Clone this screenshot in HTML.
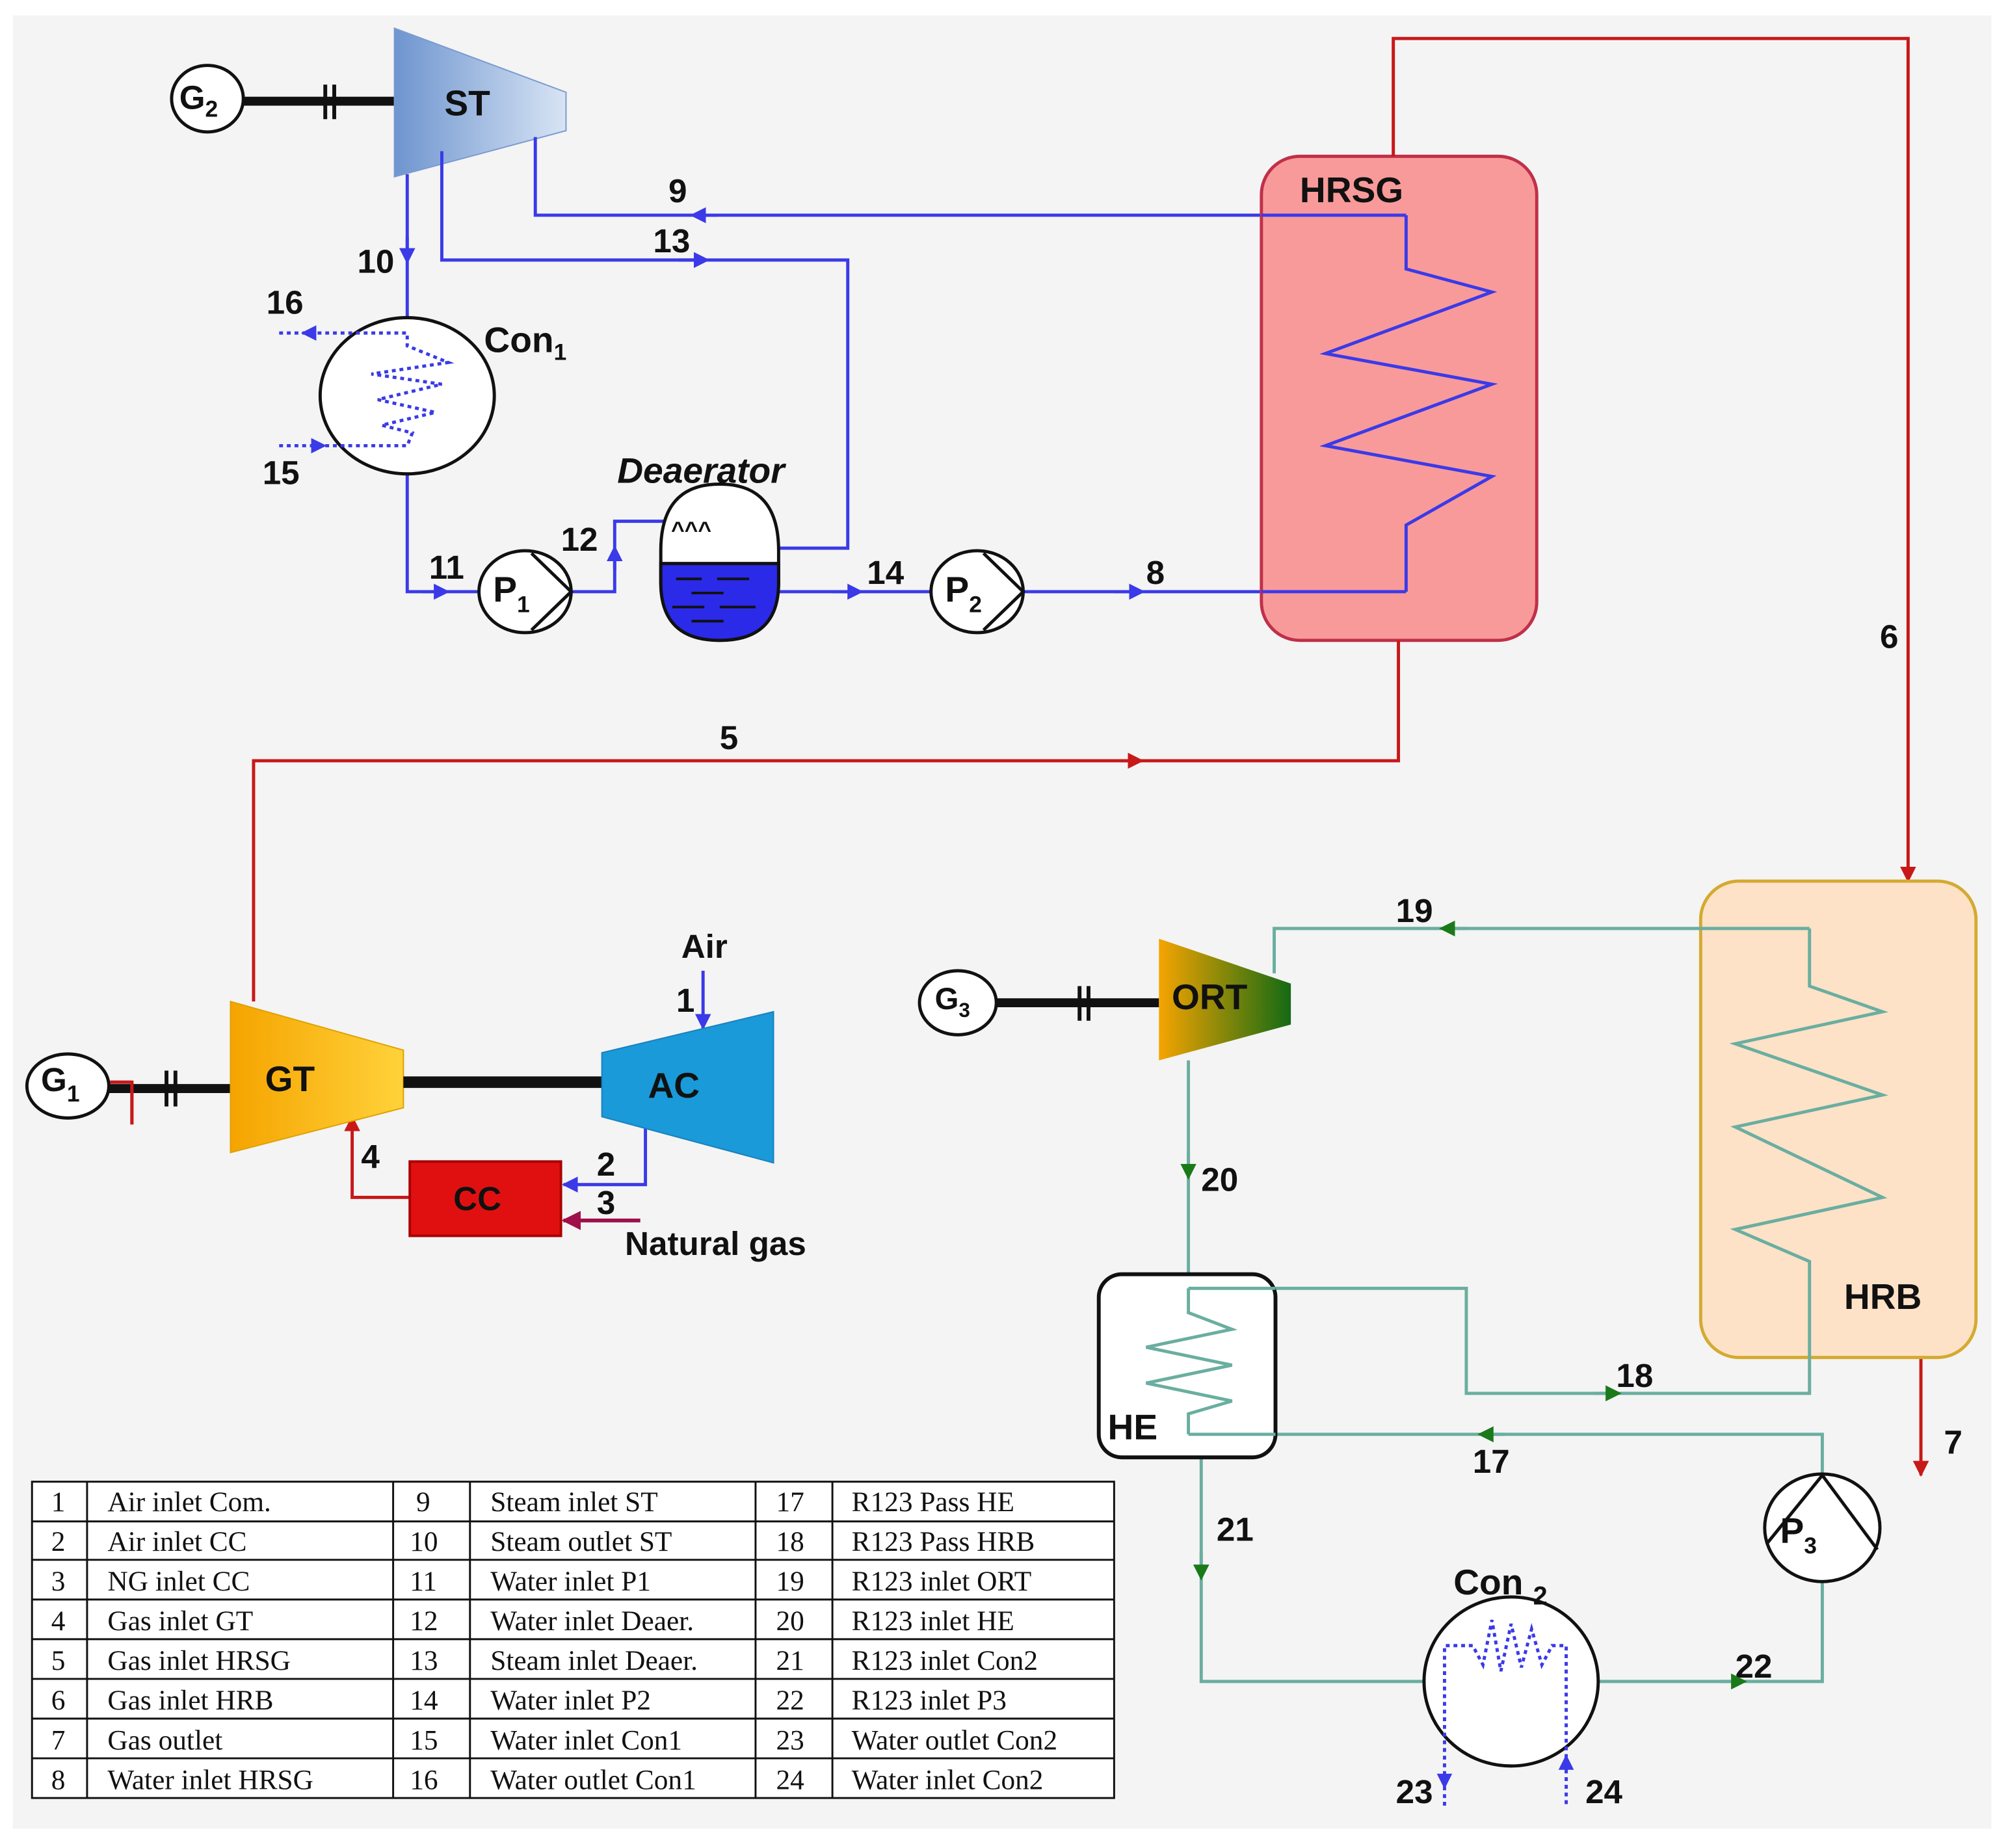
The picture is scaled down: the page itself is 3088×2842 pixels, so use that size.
<!DOCTYPE html>
<html><head><meta charset="utf-8"><style>
html,body{margin:0;padding:0;background:#fff;}
svg{display:block;}
text{font-family:"Liberation Sans",sans-serif;font-weight:bold;fill:#111;}
.tt{font-family:"Liberation Serif",serif;font-weight:normal;font-size:22px;}
</style></head><body>
<svg width="3088" height="2842" viewBox="0 0 1568 1443" xmlns="http://www.w3.org/2000/svg">
<defs>
<linearGradient id="gst" x1="0" x2="1"><stop offset="0" stop-color="#6e95cf"/><stop offset="1" stop-color="#d8e4f4"/></linearGradient>
<linearGradient id="ggt" x1="0" x2="1"><stop offset="0" stop-color="#f5a400"/><stop offset="1" stop-color="#ffd23a"/></linearGradient>
<linearGradient id="gort" x1="0" x2="1"><stop offset="0" stop-color="#f5a400"/><stop offset="1" stop-color="#146a14"/></linearGradient>
<marker id="ab" viewBox="0 0 10 10" refX="5" refY="5" markerWidth="5" markerHeight="5" orient="auto"><path d="M0,0L10,5L0,10z" fill="#3a3ae8"/></marker>
<marker id="ar" viewBox="0 0 10 10" refX="9" refY="5" markerWidth="5" markerHeight="5" orient="auto"><path d="M0,0L10,5L0,10z" fill="#c81818"/></marker>
<marker id="ag" viewBox="0 0 10 10" refX="5" refY="5" markerWidth="5" markerHeight="5" orient="auto"><path d="M0,0L10,5L0,10z" fill="#1a7a1a"/></marker>
<marker id="am" viewBox="0 0 10 10" refX="9" refY="5" markerWidth="5" markerHeight="5" orient="auto"><path d="M0,0L10,5L0,10z" fill="#a0104a"/></marker>
<marker id="abe" viewBox="0 0 10 10" refX="9" refY="5" markerWidth="5" markerHeight="5" orient="auto"><path d="M0,0L10,5L0,10z" fill="#3a3ae8"/></marker>
</defs>
<rect x="10" y="12" width="1545" height="1416" fill="#f4f4f4"/>

<!-- ST group -->
<ellipse cx="162" cy="77" rx="28" ry="26" fill="#fff" stroke="#111" stroke-width="2.5"/>
<text x="140" y="85" font-size="26">G<tspan font-size="18" dy="6">2</tspan></text>
<line x1="190" y1="79" x2="310" y2="79" stroke="#111" stroke-width="7"/>
<line x1="254" y1="66" x2="254" y2="93" stroke="#111" stroke-width="3"/>
<line x1="261" y1="66" x2="261" y2="93" stroke="#111" stroke-width="3"/>
<polygon points="308,22 442,72 442,102 308,138" fill="url(#gst)" stroke="#7a9ad0"/>
<text x="347" y="90" font-size="28">ST</text>

<!-- blue lines -->
<g stroke="#3a3ae8" stroke-width="2.5" fill="none">
<polyline points="1098,168 418,168 418,107"/>
<line x1="560" y1="168" x2="545" y2="168" marker-end="url(#ab)"/>
<polyline points="345,118 345,203 662,203 662,428 607,428"/>
<line x1="530" y1="203" x2="548" y2="203" marker-end="url(#ab)"/>
<line x1="318" y1="136" x2="318" y2="250"/>
<line x1="318" y1="185" x2="318" y2="200" marker-end="url(#ab)"/>
<polyline points="318,370 318,462 375,462"/>
<line x1="330" y1="462" x2="345" y2="462" marker-end="url(#ab)"/>
<polyline points="446,462 480,462 480,407 573,407"/>
<line x1="480" y1="445" x2="480" y2="432" marker-end="url(#ab)"/>
<line x1="608" y1="462" x2="728" y2="462"/>
<line x1="650" y1="462" x2="668" y2="462" marker-end="url(#ab)"/>
<polyline points="798,462 1098,462 1098,410 1165,372 1035,348 1165,300 1035,276 1165,228 1098,210 1098,168"/>
<line x1="870" y1="462" x2="888" y2="462" marker-end="url(#ab)"/>
<line x1="549" y1="758" x2="549" y2="803" marker-end="url(#abe)"/>
<polyline points="504,880 504,925 440,925" marker-end="url(#abe)"/>
</g>
<!-- Con1 -->
<ellipse cx="318" cy="309" rx="68" ry="61" fill="#fff" stroke="#111" stroke-width="2.5"/>
<g stroke="#3a3ae8" stroke-width="2.5" fill="none" stroke-dasharray="3,3">
<polyline points="218,260 318,260 318,270 350,283 290,292 345,300 295,312 340,322 298,332 322,338 318,348 218,348"/>
</g>
<path d="M235,260 l12,-6 v12z" fill="#3a3ae8"/>
<path d="M255,348 l-12,-6 v12z" fill="#3a3ae8"/>
<text x="378" y="275" font-size="28">Con<tspan font-size="18" dy="6">1</tspan></text>
<!-- P1 -->
<ellipse cx="410" cy="462" rx="36" ry="32" fill="#fff" stroke="#111" stroke-width="2.5"/>
<polyline points="415,432 446,462 415,492" fill="none" stroke="#111" stroke-width="2.5"/>
<text x="385" y="470" font-size="28">P<tspan font-size="18" dy="8">1</tspan></text>
<!-- Deaerator -->
<path d="M516,430 Q516,378 562,378 Q608,378 608,430 V455 Q608,500 562,500 Q516,500 516,455 Z" fill="#fff" stroke="#111" stroke-width="2.5"/>
<path d="M516,440 H608 V455 Q608,500 562,500 Q516,500 516,455 Z" fill="#2a2ae8" stroke="#111" stroke-width="2.5"/>
<g stroke="#111" stroke-width="2"><line x1="528" y1="452" x2="548" y2="452"/><line x1="560" y1="452" x2="585" y2="452"/><line x1="540" y1="463" x2="565" y2="463"/><line x1="525" y1="474" x2="550" y2="474"/><line x1="562" y1="474" x2="590" y2="474"/><line x1="540" y1="485" x2="565" y2="485"/></g>
<text x="524" y="420" font-size="18" font-weight="normal">^^^</text>
<text x="482" y="377" font-size="28" font-style="italic">Deaerator</text>
<!-- P2 -->
<ellipse cx="763" cy="462" rx="36" ry="32" fill="#fff" stroke="#111" stroke-width="2.5"/>
<polyline points="768,432 799,462 768,492" fill="none" stroke="#111" stroke-width="2.5"/>
<text x="738" y="470" font-size="28">P<tspan font-size="18" dy="8">2</tspan></text>

<!-- HRSG -->
<rect x="985" y="122" width="215" height="378" rx="30" fill="#f99a9a" stroke="#c0304a" stroke-width="2.5" fill-opacity="1"/>
<polyline points="1098,462 1098,410 1165,372 1035,348 1165,300 1035,276 1165,228 1098,210 1098,168" fill="none" stroke="#3a3ae8" stroke-width="2.5"/>
<line x1="985" y1="462" x2="1098" y2="462" stroke="#3a3ae8" stroke-width="2.5"/>
<line x1="985" y1="168" x2="1098" y2="168" stroke="#3a3ae8" stroke-width="2.5"/>
<text x="1015" y="158" font-size="28">HRSG</text>

<!-- red lines -->
<g stroke="#c81818" stroke-width="2.5" fill="none">
<polyline points="1088,122 1088,30 1490,30 1490,688" marker-end="url(#ar)"/>
<polyline points="1092,500 1092,594 198,594 198,782"/>
<line x1="875" y1="594" x2="892" y2="594" marker-end="url(#ar)"/>
<polyline points="320,935 275,935 275,872" marker-end="url(#ar)"/>
<line x1="1500" y1="1060" x2="1500" y2="1152" marker-end="url(#ar)"/>
<polyline points="86,845 103,845 103,878"/>
</g>
<line x1="500" y1="953" x2="440" y2="953" stroke="#a0104a" stroke-width="3" marker-end="url(#am)"/>

<!-- GT group -->
<ellipse cx="53" cy="848" rx="32" ry="25" fill="#fff" stroke="#111" stroke-width="2.5"/>
<text x="32" y="852" font-size="26">G<tspan font-size="18" dy="8">1</tspan></text>
<line x1="85" y1="850" x2="180" y2="850" stroke="#111" stroke-width="7"/>
<line x1="130" y1="836" x2="130" y2="864" stroke="#111" stroke-width="3"/>
<line x1="137" y1="836" x2="137" y2="864" stroke="#111" stroke-width="3"/>
<line x1="86" y1="845" x2="103" y2="845" stroke="#c81818" stroke-width="2.5"/>
<line x1="103" y1="845" x2="103" y2="878" stroke="#c81818" stroke-width="2.5"/>
<polygon points="180,782 315,820 315,865 180,900" fill="url(#ggt)" stroke="#e0a000"/>
<text x="207" y="852" font-size="28">GT</text>
<line x1="315" y1="845" x2="470" y2="845" stroke="#111" stroke-width="9"/>
<polygon points="470,822 604,790 604,908 470,872" fill="#1a9ad8" stroke="#1a80c0"/>
<text x="506" y="857" font-size="28">AC</text>
<rect x="320" y="907" width="118" height="58" fill="#e01010" stroke="#a00" stroke-width="2"/>
<text x="354" y="945" font-size="26">CC</text>
<text x="532" y="748" font-size="26">Air</text>
<text x="528" y="790" font-size="26">1</text>
<text x="466" y="918" font-size="26">2</text>
<text x="466" y="948" font-size="26">3</text>
<text x="282" y="912" font-size="26">4</text>
<text x="488" y="980" font-size="26">Natural gas</text>

<!-- labels -->
<g font-size="26">
<text x="522" y="158">9</text>
<text x="510" y="197">13</text>
<text x="279" y="213">10</text>
<text x="208" y="245">16</text>
<text x="205" y="378">15</text>
<text x="335" y="452">11</text>
<text x="438" y="430">12</text>
<text x="677" y="456">14</text>
<text x="895" y="456">8</text>
<text x="562" y="585">5</text>
<text x="1468" y="506">6</text>
<text x="1518" y="1135">7</text>
<text x="1090" y="720">19</text>
<text x="938" y="930">20</text>
<text x="1262" y="1083">18</text>
<text x="1150" y="1150">17</text>
<text x="950" y="1203">21</text>
<text x="1355" y="1310">22</text>
<text x="1090" y="1408">23</text>
<text x="1238" y="1408">24</text>
</g>

<!-- HRB -->
<rect x="1328" y="688" width="215" height="372" rx="30" fill="#fde2c8" stroke="#d4aa30" stroke-width="2.5"/>
<text x="1440" y="1022" font-size="28">HRB</text>

<!-- teal lines -->
<g stroke="#6aaea0" stroke-width="2.5" fill="none">
<polyline points="1413,725 995,725 995,760"/>
<polyline points="1413,725 1413,770 1470,790 1355,815 1470,855 1355,880 1470,935 1355,960 1413,985 1413,1088 1145,1088 1145,1006 928,1006"/>
<line x1="928" y1="828" x2="928" y2="995"/>
<polyline points="928,1006 928,1025 962,1038 895,1052 962,1066 895,1080 962,1094 928,1104 928,1120 1423,1120 1423,1150"/>
<polyline points="938,1138 938,1313 1112,1313"/>
<polyline points="1248,1313 1423,1313 1423,1235"/>
</g>
<line x1="1145" y1="725" x2="1130" y2="725" stroke="#6aaea0" stroke-width="2.5" marker-end="url(#ag)"/>
<line x1="928" y1="900" x2="928" y2="915" stroke="#6aaea0" stroke-width="2.5" marker-end="url(#ag)"/>
<line x1="1245" y1="1088" x2="1260" y2="1088" stroke="#6aaea0" stroke-width="2.5" marker-end="url(#ag)"/>
<line x1="1175" y1="1120" x2="1160" y2="1120" stroke="#6aaea0" stroke-width="2.5" marker-end="url(#ag)"/>
<line x1="938" y1="1212" x2="938" y2="1228" stroke="#6aaea0" stroke-width="2.5" marker-end="url(#ag)"/>
<line x1="1343" y1="1313" x2="1358" y2="1313" stroke="#6aaea0" stroke-width="2.5" marker-end="url(#ag)"/>

<!-- ORT -->
<ellipse cx="748" cy="783" rx="30" ry="25" fill="#fff" stroke="#111" stroke-width="2.5"/>
<text x="730" y="788" font-size="24">G<tspan font-size="16" dy="6">3</tspan></text>
<line x1="778" y1="783" x2="905" y2="783" stroke="#111" stroke-width="7"/>
<line x1="843" y1="770" x2="843" y2="797" stroke="#111" stroke-width="3"/>
<line x1="850" y1="770" x2="850" y2="797" stroke="#111" stroke-width="3"/>
<polygon points="905,733 1008,768 1008,800 905,828" fill="url(#gort)"/>
<text x="915" y="788" font-size="28" font-weight="normal">ORT</text>

<!-- HE -->
<rect x="858" y="995" width="138" height="143" rx="18" fill="#fff" stroke="#111" stroke-width="3"/>
<polyline points="928,1006 928,1025 962,1038 895,1052 962,1066 895,1080 962,1094 928,1104 928,1120" fill="none" stroke="#6aaea0" stroke-width="2.5"/>
<line x1="928" y1="1006" x2="996" y2="1006" stroke="#6aaea0" stroke-width="2.5"/>
<line x1="928" y1="1120" x2="996" y2="1120" stroke="#6aaea0" stroke-width="2.5"/>
<text x="865" y="1124" font-size="28">HE</text>

<!-- P3 -->
<ellipse cx="1423" cy="1193" rx="45" ry="42" fill="#fff" stroke="#111" stroke-width="2.5"/>
<polyline points="1380,1205 1423,1152 1466,1210" fill="none" stroke="#111" stroke-width="2.5"/>
<text x="1390" y="1205" font-size="28">P<tspan font-size="18" dy="8">3</tspan></text>

<!-- Con2 -->
<ellipse cx="1180" cy="1313" rx="68" ry="66" fill="#fff" stroke="#111" stroke-width="2.5"/>
<g stroke="#3a3ae8" stroke-width="2.5" fill="none" stroke-dasharray="3,3">
<polyline points="1128,1410 1128,1285 1150,1285 1158,1300 1165,1265 1172,1305 1180,1268 1188,1302 1196,1272 1204,1300 1212,1285 1223,1285 1223,1410"/>
</g>
<path d="M1122,1385 h12 l-6,12z" fill="#3a3ae8"/>
<path d="M1217,1382 h12 l-6,-12z" fill="#3a3ae8"/>
<text x="1135" y="1245" font-size="28">Con <tspan font-size="20" dy="8">2</tspan></text>

<!-- Table -->
<rect x="25" y="1157" width="845" height="247" fill="#fff" stroke="#111" stroke-width="1.5"/>
<g stroke="#111" stroke-width="1.5">
<line x1="25" y1="1188" x2="870" y2="1188"/><line x1="25" y1="1218" x2="870" y2="1218"/>
<line x1="25" y1="1249" x2="870" y2="1249"/><line x1="25" y1="1280" x2="870" y2="1280"/>
<line x1="25" y1="1311" x2="870" y2="1311"/><line x1="25" y1="1342" x2="870" y2="1342"/>
<line x1="25" y1="1373" x2="870" y2="1373"/>
<line x1="68" y1="1157" x2="68" y2="1404"/><line x1="307" y1="1157" x2="307" y2="1404"/>
<line x1="367" y1="1157" x2="367" y2="1404"/><line x1="590" y1="1157" x2="590" y2="1404"/>
<line x1="650" y1="1157" x2="650" y2="1404"/>
</g>
<g class="tt">
<text x="40" y="1180" class="tt">1</text><text x="84" y="1180" class="tt">Air inlet Com.</text><text x="325" y="1180" class="tt">9</text><text x="383" y="1180" class="tt">Steam inlet ST</text><text x="606" y="1180" class="tt">17</text><text x="665" y="1180" class="tt">R123 Pass HE</text>
<text x="40" y="1211" class="tt">2</text><text x="84" y="1211" class="tt">Air inlet CC</text><text x="320" y="1211" class="tt">10</text><text x="383" y="1211" class="tt">Steam outlet ST</text><text x="606" y="1211" class="tt">18</text><text x="665" y="1211" class="tt">R123 Pass HRB</text>
<text x="40" y="1242" class="tt">3</text><text x="84" y="1242" class="tt">NG inlet CC</text><text x="320" y="1242" class="tt">11</text><text x="383" y="1242" class="tt">Water inlet P1</text><text x="606" y="1242" class="tt">19</text><text x="665" y="1242" class="tt">R123 inlet ORT</text>
<text x="40" y="1273" class="tt">4</text><text x="84" y="1273" class="tt">Gas inlet GT</text><text x="320" y="1273" class="tt">12</text><text x="383" y="1273" class="tt">Water inlet Deaer.</text><text x="606" y="1273" class="tt">20</text><text x="665" y="1273" class="tt">R123 inlet HE</text>
<text x="40" y="1304" class="tt">5</text><text x="84" y="1304" class="tt">Gas inlet HRSG</text><text x="320" y="1304" class="tt">13</text><text x="383" y="1304" class="tt">Steam inlet Deaer.</text><text x="606" y="1304" class="tt">21</text><text x="665" y="1304" class="tt">R123 inlet Con2</text>
<text x="40" y="1335" class="tt">6</text><text x="84" y="1335" class="tt">Gas inlet HRB</text><text x="320" y="1335" class="tt">14</text><text x="383" y="1335" class="tt">Water inlet P2</text><text x="606" y="1335" class="tt">22</text><text x="665" y="1335" class="tt">R123 inlet P3</text>
<text x="40" y="1366" class="tt">7</text><text x="84" y="1366" class="tt">Gas outlet</text><text x="320" y="1366" class="tt">15</text><text x="383" y="1366" class="tt">Water inlet Con1</text><text x="606" y="1366" class="tt">23</text><text x="665" y="1366" class="tt">Water outlet Con2</text>
<text x="40" y="1397" class="tt">8</text><text x="84" y="1397" class="tt">Water inlet HRSG</text><text x="320" y="1397" class="tt">16</text><text x="383" y="1397" class="tt">Water outlet Con1</text><text x="606" y="1397" class="tt">24</text><text x="665" y="1397" class="tt">Water inlet Con2</text>
</g>
</svg>
</body></html>
